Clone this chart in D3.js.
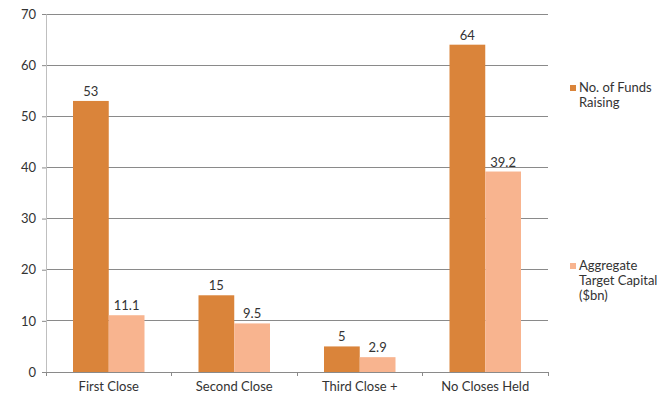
<!DOCTYPE html>
<html>
<head>
<meta charset="utf-8">
<script src="https://cdn.jsdelivr.net/npm/d3@7"></script>
<style>
  html, body { margin: 0; padding: 0; background: #fff; }
  svg text { font-family: "Lato", "Open Sans", sans-serif; fill: #333; }
</style>
</head>
<body>
<svg id="chart" width="665" height="395"></svg>
<script>
// Fundraising status by close stage
const categories = ["First Close", "Second Close", "Third Close +", "No Closes Held"];
const fundsRaising = [53, 15, 5, 64];
const targetCapital = [11.1, 9.5, 2.9, 39.2];
const yTicks = [0, 10, 20, 30, 40, 50, 60, 70];
const seriesNames = [["No. of Funds", "Raising"], ["Aggregate", "Target Capital", "($bn)"]];
const seriesColors = ["#DA843A", "#F8B48F"];

const svg = d3.select("#chart");
const margin = { left: 46, right: 117, top: 14, bottom: 23 };
const W = 665, H = 395;

const x = d3.scaleBand().domain(categories)
  .range([margin.left, W - margin.right]).paddingInner(0).paddingOuter(0);
const y = d3.scaleLinear().domain([0, 70]).range([H - margin.bottom, margin.top]);

// gridlines
svg.append("g").selectAll("line").data(yTicks.filter(d => d > 0)).join("line")
  .attr("x1", margin.left).attr("x2", W - margin.right)
  .attr("y1", d => y(d)).attr("y2", d => y(d))
  .attr("stroke", "#8a8a8a").attr("stroke-width", 1).attr("shape-rendering", "crispEdges");

// y axis
const yAxis = svg.append("g").attr("transform", `translate(${margin.left},0)`)
  .call(d3.axisLeft(y).tickValues(yTicks).tickSize(4).tickPadding(6).tickFormat(d3.format("d")));
yAxis.select(".domain").attr("stroke", "#bfbfbf");
yAxis.selectAll(".tick line").attr("stroke", "#8a8a8a");
yAxis.selectAll("text").attr("font-size", 13).style("fill", "#333");

// bars
const inner = x.bandwidth();
const groupPad = 27;
const barW = (inner - 2 * groupPad) / 2;
const series = [fundsRaising, targetCapital];
series.forEach((vals, si) => {
  const g = svg.append("g");
  g.selectAll("rect").data(vals).join("rect")
    .attr("x", (d, i) => x(categories[i]) + groupPad + si * barW)
    .attr("width", barW)
    .attr("y", d => y(d))
    .attr("height", d => y(0) - y(d))
    .attr("fill", seriesColors[si]);
  g.selectAll("text").data(vals).join("text")
    .attr("x", (d, i) => x(categories[i]) + groupPad + si * barW + barW / 2)
    .attr("y", d => y(d) - 5)
    .attr("text-anchor", "middle").attr("font-size", 13)
    .text(d => d);
});

// x axis
const xAxis = svg.append("g").attr("transform", `translate(0,${y(0)})`)
  .call(d3.axisBottom(x).tickSize(0).tickPadding(10));
xAxis.select(".domain").attr("stroke", "#8a8a8a");
xAxis.selectAll("text").attr("font-size", 13).style("fill", "#333");
// category boundary ticks
const bounds = categories.map(c => x(c)).concat([x(categories[categories.length - 1]) + inner]);
svg.append("g").selectAll("line").data(bounds).join("line")
  .attr("x1", d => d).attr("x2", d => d)
  .attr("y1", y(0)).attr("y2", y(0) + 4)
  .attr("stroke", "#8a8a8a").attr("shape-rendering", "crispEdges");

// legend
const legendY = [85, 263];
seriesNames.forEach((lines, i) => {
  const g = svg.append("g").attr("transform", `translate(570,${legendY[i]})`);
  g.append("rect").attr("width", 6).attr("height", 6).attr("fill", seriesColors[i]);
  lines.forEach((t, j) => {
    g.append("text").attr("x", 9).attr("y", 7 + j * 15).attr("font-size", 13).text(t);
  });
});
</script>
</body>
</html>
